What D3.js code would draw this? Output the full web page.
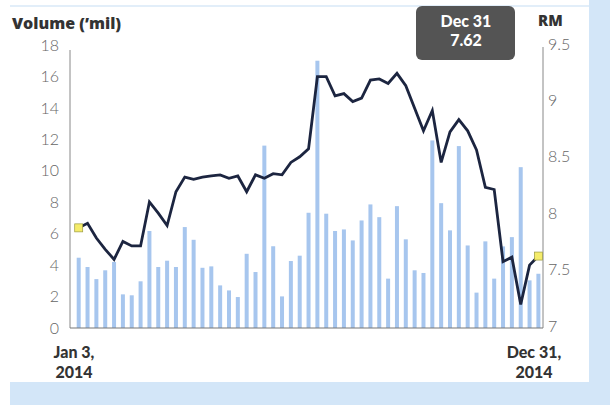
<!DOCTYPE html>
<html><head><meta charset="utf-8">
<script src="https://cdn.jsdelivr.net/npm/d3@7"></script>
<style>html,body{margin:0;padding:0;background:#fff;}svg{display:block;}</style>
</head><body>
<svg id="c" width="610" height="405"></svg>
<script>
const volume = [4.47,3.88,3.11,3.67,4.2,2.14,2.08,2.97,6.17,3.88,4.28,3.88,6.42,5.61,3.83,3.92,2.71,2.39,1.97,4.72,3.56,11.6,5.2,2.01,4.26,4.6,7.33,17.0,7.27,6.17,6.27,5.57,6.84,7.86,7.05,3.14,7.75,5.64,3.67,3.5,11.93,7.94,6.21,11.57,5.25,2.25,5.51,3.14,5.19,5.78,10.23,3.03,3.45];
const price = [7.87,7.91,7.78,7.68,7.59,7.75,7.71,7.71,8.10,8.0,7.89,8.19,8.32,8.30,8.32,8.33,8.34,8.31,8.33,8.19,8.34,8.31,8.35,8.34,8.45,8.50,8.57,9.21,9.21,9.04,9.06,8.99,9.02,9.18,9.19,9.15,9.24,9.13,8.93,8.73,8.91,8.45,8.72,8.83,8.73,8.56,8.23,8.21,7.57,7.61,7.19,7.54,7.62];
const volTicks = [0,2,4,6,8,10,12,14,16,18];
const priceTicks = [7,7.5,8,8.5,9,9.5];
const startLabel = ["Jan 3,","2014"];
const endLabel = ["Dec 31,","2014"];
const callout = ["Dec 31","7.62"];

const svg = d3.select("#c");
const blue = "#d3e6f8";
svg.append("rect").attr("x",589).attr("y",0).attr("width",21).attr("height",405).attr("fill",blue);
svg.append("rect").attr("x",10).attr("y",382).attr("width",600).attr("height",23).attr("fill",blue);
svg.append("rect").attr("x",10).attr("y",5).attr("width",579).attr("height",2).attr("fill","#e2eef9");

const idx = d3.range(volume.length);
const x = d3.scalePoint().domain(idx).range([78.7,538.4]);
const yV = d3.scaleLinear().domain([0,18]).range([328,45]);
const yP = d3.scaleLinear().domain([7,9.5]).range([326,44]);

svg.append("g").selectAll("rect").data(idx).join("rect")
  .attr("x",i=>x(i)-2).attr("width",4)
  .attr("y",i=>yV(volume[i])).attr("height",i=>yV(0)-yV(volume[i]))
  .attr("fill","#a7c6ee");

const axisL = d3.axisLeft(yV).tickValues(volTicks).tickSize(0).tickPadding(11);
const gL = svg.append("g").attr("transform","translate(70,0)").call(axisL);
const axisR = d3.axisRight(yP).tickValues(priceTicks).tickSize(0).tickPadding(5).tickFormat(d3.format("~g"));
const gR = svg.append("g").attr("transform","translate(543,0)").call(axisR);
[gL,gR].forEach(g=>{
  g.select(".domain").remove();
  g.selectAll("text").attr("font-family","Lato, 'Open Sans', sans-serif").attr("font-size",16).attr("fill","#666").attr("font-weight",300);
});
svg.append("line").attr("x1",70).attr("x2",70).attr("y1",50).attr("y2",328).attr("stroke","#888").attr("stroke-width",1);
svg.append("line").attr("x1",543).attr("x2",543).attr("y1",47).attr("y2",328).attr("stroke","#888").attr("stroke-width",1);
svg.append("line").attr("x1",70).attr("x2",543).attr("y1",328).attr("y2",328).attr("stroke","#777").attr("stroke-width",1.2);

const line = d3.line().x(i=>x(i)).y(i=>yP(price[i]));
svg.append("path").datum(idx).attr("d",line).attr("fill","none")
  .attr("stroke","#1c2540").attr("stroke-width",2.8).attr("stroke-linejoin","miter");

[0, idx.length-1].forEach(i=>{
  svg.append("rect").attr("x",x(i)-4).attr("y",yP(price[i])-4).attr("width",8).attr("height",8)
    .attr("fill","#f5ec6a").attr("stroke","#9a9a40").attr("stroke-width",0.7);
});

svg.append("text").attr("x",12).attr("y",29).text("Volume (’mil)")
  .attr("font-family","'Open Sans', sans-serif").attr("font-weight",800).attr("font-size",16).attr("fill","#333");
svg.append("text").attr("x",538).attr("y",26).text("RM")
  .attr("font-family","'Open Sans', sans-serif").attr("font-weight",800).attr("font-size",15).attr("fill","#333");

svg.append("rect").attr("x",416).attr("y",6).attr("width",99).attr("height",54).attr("rx",6)
  .attr("fill","#545454");
const bf = "Lato, 'Open Sans', sans-serif";
callout.forEach((t,k)=>{
  svg.append("text").attr("x",466).attr("y",27+k*18.5).attr("text-anchor","middle").text(t)
    .attr("font-family",bf).attr("font-weight",900).attr("font-size",16).attr("fill","#fff");
});

[[startLabel,74],[endLabel,534]].forEach(([lab,cx])=>{
  lab.forEach((t,k)=>{
    svg.append("text").attr("x",cx).attr("y",358+k*19.5).attr("text-anchor","middle").text(t)
      .attr("font-family",bf).attr("font-weight",900).attr("font-size",16).attr("fill","#333");
  });
});
</script>
</body></html>
